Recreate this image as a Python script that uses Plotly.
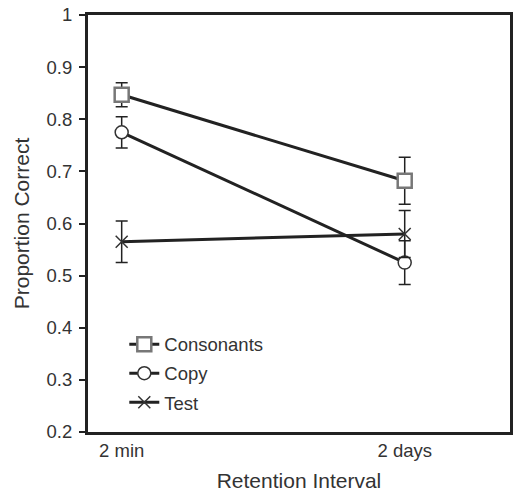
import plotly.graph_objects as go

intervals = ["2 min", "2 days"]
x_pos = [0, 1]
consonants = [0.847, 0.682]
consonants_err = [0.023, 0.045]
copy = [0.775, 0.525]
copy_err = [0.03, 0.042]
test = [0.565, 0.580]
test_err = [0.04, 0.045]

dark = "#222222"
font = "Liberation Sans, Arial, sans-serif"

fig = go.Figure()

def add(name, y, err, symbol, size, mcolor, lcolor, lw):
    fig.add_trace(go.Scatter(
        x=x_pos, y=y, name=name, mode="lines+markers", legendgroup=name,
        line=dict(color=dark, width=3),
        marker=dict(symbol=symbol, size=size, color=mcolor,
                    line=dict(color=lcolor, width=lw)),
        error_y=dict(type="data", array=err, visible=True, color=dark,
                     thickness=1.5, width=6),
    ))

add("Consonants", consonants, consonants_err, "square", 14, "white", "#777777", 2.5)
add("Copy", copy, copy_err, "circle", 13, "white", "#333333", 1.5)
add("Test", test, test_err, "x-thin-open", 12, "#333333", "#333333", 1.5)

fig.update_layout(
    width=514, height=492,
    margin=dict(l=88, r=1, t=15, b=59),
    plot_bgcolor="white", paper_bgcolor="white",
    font=dict(family=font, size=18.5, color="#333333"),
    showlegend=True,
    legend=dict(x=0.086, y=0.255, xanchor="left", yanchor="top",
                bgcolor="rgba(0,0,0,0)", font=dict(size=18.5, color="#333333"),
                tracegroupgap=2, itemwidth=30),
    xaxis=dict(
        tickmode="array", tickvals=x_pos, ticktext=intervals,
        range=[-0.119, 1.372], showgrid=False, zeroline=False,
        showline=True, linecolor=dark, linewidth=3, mirror=True,
        ticks="", tickfont=dict(size=18.5),
        title=dict(text="Retention Interval", font=dict(size=21), standoff=15),
    ),
    yaxis=dict(
        range=[0.2, 1.0], tickmode="array",
        tickvals=[0.2, 0.3, 0.4, 0.5, 0.6, 0.7, 0.8, 0.9, 1.0],
        ticktext=["0.2", "0.3", "0.4", "0.5", "0.6", "0.7", "0.8", "0.9", "1"],
        showgrid=False, zeroline=False,
        showline=True, linecolor=dark, linewidth=3, mirror=True,
        ticks="outside", ticklen=6, tickcolor=dark, tickwidth=1.5,
        tickfont=dict(size=18.5), ticklabelstandoff=3,
        title=dict(text="Proportion Correct", font=dict(size=21), standoff=12),
    ),
)

fig.write_html("out.html")
